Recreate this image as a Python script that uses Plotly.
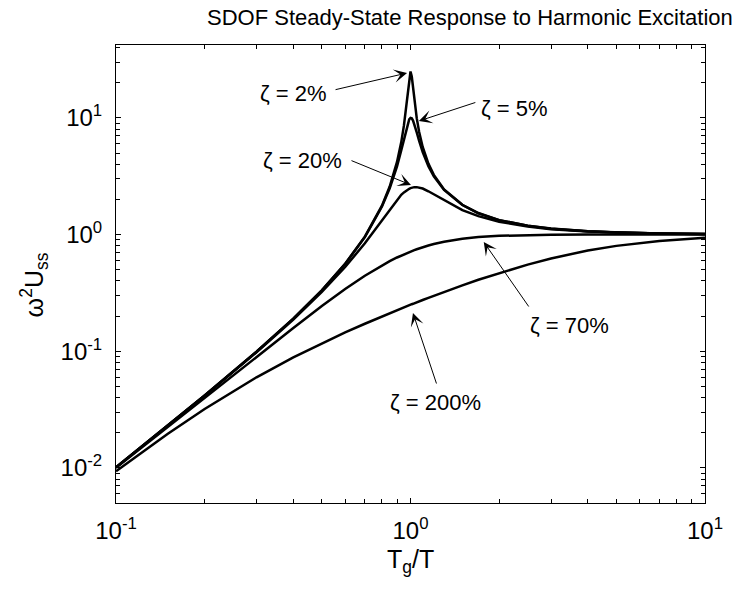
import plotly.graph_objects as go

# ---- data ----
tg_over_t = [0.1, 0.15, 0.2, 0.3, 0.4, 0.5, 0.6, 0.7, 0.8, 0.85, 0.9, 0.93, 0.95, 0.97, 0.98,
             0.99, 1.0, 1.01, 1.02, 1.03, 1.05, 1.07, 1.1, 1.15, 1.2, 1.3, 1.5, 1.7, 2, 2.5,
             3, 4, 5, 7, 10]
resp_z2 = [0.0101, 0.0230, 0.0417, 0.0989, 0.190, 0.333, 0.562, 0.959, 1.77, 2.58, 4.19, 6.17,
           8.62, 13.3, 17.2, 22.1, 25.0, 22.6, 18.1, 14.4, 9.95, 7.58, 5.64, 4.06, 3.25, 2.44,
           1.80, 1.53, 1.33, 1.19, 1.125, 1.067, 1.042, 1.021, 1.010]
resp_z5 = [0.0101, 0.0230, 0.0417, 0.0989, 0.190, 0.333, 0.560, 0.952, 1.74, 2.49, 3.85, 5.27,
           6.63, 8.28, 9.09, 9.71, 10.0, 9.91, 9.48, 8.87, 7.51, 6.36, 5.10, 3.86, 3.16, 2.41,
           1.79, 1.52, 1.33, 1.19, 1.124, 1.066, 1.041, 1.021, 1.010]
resp_z20 = [0.0101, 0.0230, 0.0415, 0.0981, 0.187, 0.322, 0.527, 0.842, 1.33, 1.65, 1.99, 2.19,
            2.30, 2.40, 2.44, 2.47, 2.50, 2.52, 2.54, 2.55, 2.55, 2.53, 2.48, 2.35, 2.21, 1.96,
            1.62, 1.44, 1.29, 1.17, 1.113, 1.061, 1.038, 1.019, 1.009]
resp_z70 = [0.0100, 0.0225, 0.0400, 0.0898, 0.158, 0.244, 0.341, 0.444, 0.544, 0.591, 0.636,
            0.661, 0.677, 0.692, 0.700, 0.707, 0.714, 0.721, 0.728, 0.735, 0.748, 0.761, 0.779,
            0.805, 0.829, 0.868, 0.921, 0.951, 0.975, 0.991, 0.996, 0.999, 1.000, 1.000, 1.000]
resp_z200 = [0.00937, 0.0196, 0.0320, 0.0598, 0.0885, 0.117, 0.145, 0.172, 0.199, 0.212, 0.225,
             0.232, 0.237, 0.243, 0.245, 0.248, 0.250, 0.253, 0.255, 0.258, 0.262, 0.267, 0.275,
             0.287, 0.299, 0.322, 0.367, 0.410, 0.468, 0.553, 0.624, 0.730, 0.800, 0.882, 0.937]

series = [resp_z2, resp_z5, resp_z20, resp_z70, resp_z200]

x_ticks = [0.1, 1, 10]
x_ticktext = ["10<sup>-1</sup>", "10<sup>0</sup>", "10<sup>1</sup>"]
y_ticks = [0.01, 0.1, 1, 10]
y_ticktext = ["10<sup>-2</sup>", "10<sup>-1</sup>", "10<sup>0</sup>", "10<sup>1</sup>"]

labels = ["ζ = 2%", "ζ = 5%", "ζ = 20%", "ζ = 70%", "ζ = 200%"]

# ---- layout geometry (pixels) ----
W, H = 735, 592
L, R, T, B = 116, 715, 45, 503


def px(xp):
    return (xp - L) / (R - L)


def py(yp):
    return (B - yp) / (B - T)


x_minor = [v * m for v in [0.1, 1] for m in range(2, 10)]
y_minor = [v * m for v in [0.001, 0.01, 0.1, 1, 10] for m in range(2, 10)]
y_minor = [v for v in y_minor if 0.005 <= v <= 42]

FONT = "Liberation Sans, Arial, sans-serif"

fig = go.Figure()
for s in series:
    fig.add_trace(go.Scatter(x=tg_over_t, y=s, mode="lines",
                             line=dict(color="black", width=2.5), showlegend=False,
                             hoverinfo="skip"))

axis_common = dict(
    type="log", showgrid=False, zeroline=False, showline=True, linecolor="black",
    linewidth=1, mirror="ticks", ticks="inside", ticklen=5, tickwidth=1, tickcolor="black",
    tickfont=dict(family=FONT, size=24, color="black"),
)

fig.update_xaxes(range=[-1, 1], tickmode="array", tickvals=x_ticks, ticktext=x_ticktext,
                 ticklabelstandoff=6,
                 minor=dict(tickmode="array", tickvals=x_minor, ticks="inside", ticklen=4,
                            tickcolor="black", tickwidth=1),
                 **axis_common)
fig.update_yaxes(range=[-2.301, 1.625], tickmode="array", tickvals=y_ticks,
                 ticktext=y_ticktext, ticklabelstandoff=8,
                 minor=dict(tickmode="array", tickvals=y_minor, ticks="inside", ticklen=4,
                            tickcolor="black", tickwidth=1),
                 **axis_common)

ann = []
# title
ann.append(dict(text="SDOF Steady-State Response to Harmonic Excitation", xref="paper",
                yref="paper", x=px(476), y=py(17), xanchor="center", yanchor="middle",
                showarrow=False, font=dict(family=FONT, size=22, color="black")))
# axis titles
ann.append(dict(text="T<sub>g</sub>/T", xref="paper", yref="paper", x=px(415), y=py(543),
                xanchor="center", yanchor="top", showarrow=False,
                font=dict(family=FONT, size=25, color="black")))
ann.append(dict(text="ω<sup>2</sup>U<sub>ss</sub>", xref="paper", yref="paper", x=px(33),
                y=py(285), xanchor="center", yanchor="middle", textangle=-90,
                showarrow=False, font=dict(family=FONT, size=25, color="black")))

# text labels (center pixel) and arrows (tail pixel -> tip pixel)
text_pos = [(297, 93), (521, 108), (306, 160), (577, 325), (441, 402)]
arrows = [((339, 90), (412, 73)), ((482, 102), (424, 121)), ((355, 160), (416, 185)),
          ((536, 308), (490, 242)), ((442, 385), (418, 313))]
for lab, (tx, ty), ((ax0, ay0), (hx, hy)) in zip(labels, text_pos, arrows):
    ann.append(dict(text=lab, xref="paper", yref="paper", x=px(tx), y=py(ty),
                    xanchor="center", yanchor="middle", showarrow=False,
                    font=dict(family=FONT, size=22, color="black")))
    ann.append(dict(text="", xref="paper", yref="paper", x=px(hx), y=py(hy),
                    ax=ax0 - hx, ay=ay0 - hy, axref="pixel", ayref="pixel",
                    showarrow=True, arrowhead=3, arrowsize=2.2, arrowwidth=1,
                    arrowcolor="black", standoff=0, startstandoff=0))

fig.update_layout(width=W, height=H, margin=dict(l=L, r=W - R, t=T, b=H - B),
                  paper_bgcolor="white", plot_bgcolor="white", annotations=ann,
                  font=dict(family=FONT, color="black"))

fig.write_html("out.html")
